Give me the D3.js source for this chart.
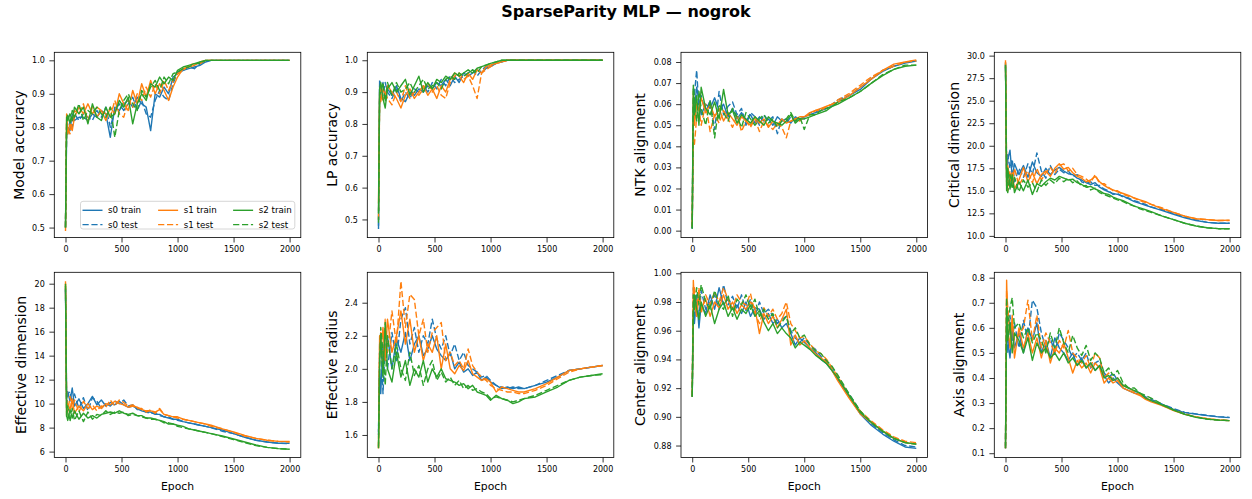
<!DOCTYPE html>
<html>
<head>
<meta charset="utf-8">
<script src="https://cdn.jsdelivr.net/npm/d3@7"></script>
<style>
  body { margin: 0; background: #fff; }
  svg { display: block; font-family: "DejaVu Sans", sans-serif; }
</style>
</head>
<body>
<div id="chart"></div>
<script>
const chartTitle = "SparseParity MLP \u2014 nogrok";

const epochs = [0,10,20,40,60,80,
  120,160,200,240,280,320,360,400,440,480,520,560,600,640,680,720,760,800,840,880,920,960,1000,
  1050,1100,1150,1200,1250,1300,
  1400,1500,1600,1700,1800,1900,2000];

// order: s0 train, s0 test, s1 train, s1 test, s2 train, s2 test
const seriesNames = ["s0 train", "s0 test", "s1 train", "s1 test", "s2 train", "s2 test"];

const modelAccuracy = [
  [0.50,0.78,0.80,0.79,0.84,0.82, 0.83,0.83,0.82,0.84,0.83,0.85,0.84,0.77,0.86,0.85,0.87,0.88,0.86,0.89,0.87,0.86,0.79,0.90,0.89,0.92,0.90,0.95,0.96, 0.97,0.975,0.98,0.985,0.995,1.0, 1,1,1,1,1,1,1],
  [0.50,0.80,0.78,0.82,0.80,0.84, 0.82,0.84,0.83,0.82,0.85,0.83,0.86,0.80,0.85,0.87,0.85,0.87,0.89,0.85,0.88,0.84,0.83,0.88,0.91,0.89,0.88,0.93,0.965, 0.97,0.98,0.975,0.99,0.998,1.0, 1,1,1,1,1,1,1],
  [0.49,0.84,0.78,0.81,0.79,0.83, 0.86,0.84,0.87,0.84,0.86,0.85,0.82,0.86,0.84,0.90,0.87,0.85,0.91,0.87,0.93,0.89,0.94,0.90,0.93,0.91,0.88,0.92,0.95, 0.975,0.98,0.985,0.995,1.0,1.0, 1,1,1,1,1,1,1],
  [0.50,0.82,0.80,0.78,0.82,0.85, 0.84,0.87,0.82,0.86,0.83,0.85,0.84,0.83,0.88,0.84,0.83,0.88,0.86,0.90,0.88,0.92,0.89,0.93,0.90,0.94,0.91,0.94,0.96, 0.97,0.985,0.99,0.99,1.0,1.0, 1,1,1,1,1,1,1],
  [0.50,0.83,0.82,0.84,0.82,0.86, 0.84,0.86,0.81,0.87,0.83,0.82,0.86,0.83,0.84,0.88,0.86,0.89,0.81,0.87,0.90,0.88,0.93,0.92,0.95,0.93,0.95,0.94,0.97, 0.98,0.985,0.99,0.995,1.0,1.0, 1,1,1,1,1,1,1],
  [0.50,0.82,0.84,0.81,0.85,0.83, 0.87,0.82,0.85,0.84,0.86,0.84,0.83,0.86,0.77,0.85,0.88,0.90,0.87,0.85,0.91,0.89,0.92,0.94,0.91,0.95,0.93,0.96,0.965, 0.975,0.98,0.99,0.99,1.0,1.0, 1,1,1,1,1,1,1]
];

const lpAccuracy = [
  [0.48,0.92,0.90,0.93,0.88,0.91, 0.89,0.92,0.88,0.87,0.90,0.89,0.91,0.90,0.92,0.91,0.93,0.92,0.94,0.92,0.95,0.93,0.96,0.95,0.96,0.97,0.96,0.975,0.98, 0.99,0.995,1.0,1.0,1.0,1.0, 1,1,1,1,1,1,1],
  [0.47,0.94,0.91,0.89,0.93,0.90, 0.88,0.91,0.87,0.90,0.88,0.91,0.90,0.92,0.90,0.93,0.91,0.94,0.92,0.95,0.93,0.94,0.95,0.96,0.97,0.95,0.97,0.98,0.985, 0.99,0.995,1.0,1.0,1.0,1.0, 1,1,1,1,1,1,1],
  [0.55,0.90,0.87,0.91,0.89,0.92, 0.90,0.88,0.85,0.89,0.91,0.88,0.90,0.92,0.89,0.91,0.88,0.92,0.90,0.94,0.96,0.95,0.93,0.96,0.94,0.97,0.96,0.98,0.985, 0.99,0.995,1.0,1.0,1.0,1.0, 1,1,1,1,1,1,1],
  [0.50,0.88,0.92,0.87,0.90,0.88, 0.86,0.90,0.87,0.92,0.88,0.90,0.89,0.91,0.93,0.90,0.92,0.89,0.88,0.93,0.95,0.96,0.94,0.95,0.92,0.88,0.96,0.97,0.98, 0.99,0.995,1.0,1.0,1.0,1.0, 1,1,1,1,1,1,1],
  [0.52,0.91,0.93,0.88,0.85,0.91, 0.93,0.90,0.92,0.94,0.89,0.92,0.95,0.90,0.93,0.91,0.94,0.93,0.95,0.94,0.96,0.95,0.96,0.97,0.96,0.975,0.98,0.985,0.99, 0.995,1.0,1.0,1.0,1.0,1.0, 1,1,1,1,1,1,1],
  [0.49,0.89,0.90,0.93,0.87,0.93, 0.89,0.93,0.90,0.91,0.93,0.90,0.92,0.94,0.91,0.92,0.93,0.91,0.94,0.95,0.94,0.96,0.95,0.96,0.97,0.96,0.98,0.985,0.99, 0.995,1.0,1.0,1.0,1.0,1.0, 1,1,1,1,1,1,1]
];

const ntkAlignment = [
  [0.001,0.062,0.058,0.068,0.062,0.055, 0.060,0.058,0.063,0.057,0.060,0.054,0.058,0.053,0.056,0.052,0.055,0.051,0.054,0.052,0.053,0.050,0.054,0.052,0.053,0.051,0.054,0.053,0.054, 0.055,0.056,0.057,0.058,0.059,0.061, 0.064,0.067,0.072,0.0755,0.078,0.0795,0.0805],
  [0.001,0.058,0.065,0.076,0.058,0.064, 0.056,0.062,0.048,0.066,0.055,0.059,0.061,0.055,0.058,0.050,0.056,0.054,0.050,0.055,0.052,0.054,0.046,0.053,0.051,0.054,0.052,0.053,0.053, 0.056,0.056,0.058,0.058,0.060,0.062, 0.064,0.068,0.072,0.076,0.078,0.080,0.0805],
  [0.002,0.066,0.050,0.060,0.057,0.063, 0.056,0.060,0.054,0.058,0.052,0.056,0.053,0.050,0.054,0.052,0.050,0.054,0.051,0.053,0.049,0.052,0.050,0.053,0.051,0.052,0.053,0.054,0.054, 0.056,0.057,0.058,0.059,0.060,0.061, 0.064,0.068,0.072,0.076,0.079,0.080,0.081],
  [0.002,0.045,0.041,0.054,0.058,0.050, 0.060,0.047,0.055,0.051,0.057,0.053,0.049,0.055,0.047,0.052,0.049,0.053,0.047,0.052,0.050,0.048,0.051,0.049,0.044,0.052,0.053,0.052,0.054, 0.055,0.057,0.057,0.059,0.060,0.062, 0.065,0.069,0.073,0.076,0.078,0.080,0.0805],
  [0.001,0.069,0.055,0.064,0.050,0.068, 0.058,0.055,0.061,0.053,0.067,0.055,0.057,0.051,0.055,0.053,0.051,0.054,0.052,0.050,0.054,0.052,0.051,0.050,0.052,0.055,0.051,0.053,0.053, 0.054,0.055,0.056,0.057,0.059,0.060, 0.063,0.066,0.070,0.0735,0.0765,0.078,0.0785],
  [0.001,0.068,0.063,0.052,0.066,0.058, 0.050,0.062,0.044,0.060,0.056,0.052,0.058,0.054,0.049,0.056,0.053,0.050,0.053,0.055,0.051,0.053,0.049,0.052,0.053,0.056,0.052,0.054,0.048, 0.055,0.055,0.057,0.058,0.059,0.061, 0.063,0.066,0.070,0.074,0.0765,0.0785,0.0785]
];

const criticalDimension = [
  [29.2,17.0,18.5,19.5,16.5,18.0, 16.8,17.8,16.5,18.2,17.0,16.6,17.5,16.8,17.3,17.6,17.2,16.9,16.8,16.4,16.2,15.9,15.7,15.9,15.4,15.1,14.9,14.7,14.6, 14.4,14.1,13.8,13.6,13.4,13.2, 12.8,12.4,12.0,11.7,11.5,11.4,11.4],
  [29.0,16.0,19.0,17.5,18.5,16.0, 17.5,16.5,18.0,16.8,19.2,17.2,16.4,17.8,16.8,17.4,17.0,17.2,16.6,16.8,16.0,15.8,16.0,15.6,15.6,15.2,15.0,14.6,14.7, 14.3,14.2,13.9,13.7,13.5,13.2, 12.9,12.5,12.1,11.8,11.5,11.4,11.4],
  [29.5,15.5,17.8,16.0,17.0,15.2, 16.2,17.6,16.0,17.0,15.8,16.8,17.2,16.6,17.5,18.0,17.4,17.6,17.0,16.6,16.4,16.0,16.2,16.6,16.0,15.6,15.3,15.1,14.9, 14.7,14.5,14.2,14.0,13.8,13.5, 13.0,12.6,12.2,11.9,11.8,11.7,11.75],
  [29.3,18.0,15.0,17.2,15.8,17.5, 15.6,16.5,17.2,15.9,17.5,16.2,17.0,17.6,16.9,17.8,18.0,17.2,17.5,16.8,16.6,16.3,15.9,16.8,15.8,15.8,15.4,15.0,15.0, 14.6,14.4,14.2,13.9,13.7,13.5, 13.1,12.6,12.2,11.9,11.8,11.7,11.7],
  [29.0,15.0,17.5,15.2,16.8,14.8, 16.0,15.0,16.2,14.6,15.8,15.5,16.0,16.4,16.2,16.6,16.4,16.2,16.3,15.9,15.7,15.4,15.5,15.2,15.0,14.7,14.6,14.3,14.1, 13.9,13.6,13.3,13.1,12.9,12.7, 12.2,11.8,11.4,11.1,10.9,10.8,10.8],
  [28.8,16.5,14.8,16.8,15.2,16.5, 14.9,16.2,15.4,15.9,14.9,16.2,15.6,16.2,15.8,16.4,16.0,16.4,15.9,16.1,15.5,15.6,15.1,15.3,14.8,14.6,14.4,14.2,14.0, 13.8,13.5,13.3,13.0,12.8,12.6, 12.2,11.8,11.4,11.1,10.9,10.8,10.8]
];

const effectiveDimension = [
  [19.5,10.5,11.0,10.2,11.3,9.8, 10.4,9.6,10.0,10.6,9.9,10.3,9.8,10.1,9.9,10.2,9.9,9.7,9.8,9.6,9.4,9.3,9.3,9.1,9.1,8.9,8.8,8.7,8.7, 8.5,8.4,8.3,8.2,8.1,8.0, 7.8,7.5,7.2,6.95,6.8,6.7,6.7],
  [19.6,9.5,10.8,11.0,10.0,10.8, 9.6,10.5,9.4,10.5,10.2,9.6,10.0,9.8,10.2,10.0,10.3,9.8,9.9,9.5,9.5,9.3,9.2,9.2,9.0,8.9,8.9,8.7,8.6, 8.5,8.4,8.3,8.2,8.1,8.0, 7.7,7.5,7.2,6.95,6.8,6.7,6.65],
  [20.2,9.0,10.0,9.5,10.4,9.2, 9.8,9.4,10.0,9.5,9.8,9.6,10.0,9.9,10.2,10.0,9.9,9.7,9.8,9.7,9.5,9.4,9.4,9.3,9.5,9.1,9.0,8.9,8.9, 8.7,8.6,8.5,8.4,8.3,8.2, 7.9,7.65,7.35,7.1,6.95,6.85,6.85],
  [20.0,10.3,9.3,10.6,9.6,10.3, 9.3,10.2,9.6,9.9,9.4,9.8,9.7,10.3,9.8,10.3,10.1,9.8,9.9,9.6,9.6,9.3,9.5,9.2,9.6,9.1,9.0,8.9,8.8, 8.7,8.6,8.5,8.4,8.3,8.1, 7.9,7.6,7.3,7.1,6.95,6.85,6.8],
  [20.0,9.0,8.6,9.5,8.8,9.4, 8.7,9.2,8.8,9.0,8.8,9.1,9.2,9.3,9.2,9.4,9.2,9.1,9.2,9.0,9.0,8.8,8.8,8.7,8.6,8.5,8.3,8.3,8.2, 8.1,7.9,7.8,7.7,7.6,7.5, 7.3,7.05,6.8,6.55,6.35,6.25,6.2],
  [19.8,8.8,9.8,8.5,9.6,8.6, 9.4,8.5,9.3,8.7,9.1,9.0,9.4,9.1,9.3,9.2,9.3,9.0,9.1,9.0,8.9,8.8,8.7,8.7,8.6,8.4,8.4,8.3,8.1, 8.0,7.9,7.8,7.7,7.6,7.5, 7.25,7.0,6.75,6.5,6.35,6.25,6.2]
];

const effectiveRadius = [
  [1.62,2.0,1.85,2.15,2.05,2.2, 2.0,2.18,2.1,2.22,2.05,2.15,2.2,2.08,2.12,2.2,2.12,2.08,2.05,2.1,2.0,2.04,1.98,2.0,1.96,1.98,1.93,1.95,1.92, 1.9,1.88,1.89,1.88,1.89,1.88, 1.9,1.92,1.95,1.99,2.0,2.01,2.02],
  [1.6,2.1,2.2,1.85,2.15,2.0, 2.22,2.05,2.3,2.37,2.15,2.25,2.1,2.2,2.15,2.3,2.18,2.12,2.2,2.08,2.15,2.05,2.1,2.02,2.0,1.98,1.95,1.96,1.93, 1.9,1.89,1.88,1.89,1.88,1.88, 1.9,1.93,1.96,1.99,2.0,2.01,2.02],
  [1.52,2.2,2.1,2.25,2.05,2.3, 2.1,2.2,2.35,2.15,2.3,2.1,2.2,2.05,2.15,2.1,2.2,2.0,2.15,2.0,1.97,2.02,1.99,2.05,1.97,1.95,1.93,1.94,1.92, 1.86,1.89,1.88,1.87,1.86,1.86, 1.88,1.91,1.95,1.99,2.0,2.01,2.02],
  [1.52,2.15,2.22,2.0,2.3,2.1, 2.35,2.15,2.53,2.25,2.45,2.42,2.2,2.3,2.1,2.22,2.25,2.28,2.05,2.1,2.02,2.05,2.0,2.12,2.02,1.98,1.95,1.93,1.9, 1.88,1.87,1.86,1.86,1.85,1.85, 1.87,1.9,1.94,1.98,2.0,2.01,2.02],
  [1.52,2.05,2.2,1.95,2.28,2.0, 1.92,2.1,1.95,2.05,1.9,2.0,1.95,2.05,1.92,2.0,1.95,2.0,1.94,1.93,1.92,1.9,1.91,1.88,1.9,1.86,1.85,1.84,1.81, 1.84,1.82,1.81,1.79,1.8,1.82, 1.83,1.86,1.89,1.93,1.95,1.96,1.97],
  [1.53,2.0,2.25,2.1,1.9,2.2, 2.0,2.15,2.0,1.93,2.1,1.96,2.02,1.9,2.0,2.05,1.93,1.98,1.92,1.95,1.9,1.93,1.88,1.9,1.87,1.88,1.86,1.85,1.82, 1.83,1.82,1.81,1.8,1.81,1.82, 1.84,1.87,1.9,1.93,1.95,1.96,1.965]
];

const centerAlignment = [
  [0.914,0.975,0.965,0.985,0.962,0.978, 0.972,0.985,0.975,0.99,0.978,0.982,0.975,0.978,0.972,0.98,0.97,0.976,0.975,0.968,0.972,0.965,0.968,0.962,0.965,0.958,0.95,0.955,0.952, 0.948,0.945,0.94,0.937,0.932,0.926, 0.914,0.902,0.894,0.888,0.883,0.879,0.878],
  [0.914,0.99,0.97,0.98,0.968,0.988, 0.975,0.98,0.985,0.975,0.992,0.978,0.984,0.975,0.985,0.974,0.982,0.97,0.98,0.972,0.975,0.97,0.965,0.968,0.97,0.96,0.955,0.952,0.955, 0.95,0.947,0.942,0.938,0.934,0.928, 0.916,0.904,0.895,0.889,0.884,0.88,0.879],
  [0.914,0.995,0.98,0.97,0.985,0.975, 0.982,0.97,0.98,0.976,0.985,0.975,0.98,0.972,0.978,0.975,0.98,0.976,0.958,0.972,0.965,0.97,0.962,0.968,0.975,0.95,0.957,0.95,0.953, 0.948,0.944,0.941,0.938,0.932,0.925, 0.913,0.902,0.896,0.89,0.885,0.882,0.881],
  [0.915,0.98,0.99,0.975,0.99,0.972, 0.985,0.978,0.987,0.98,0.99,0.982,0.975,0.985,0.98,0.978,0.986,0.972,0.965,0.976,0.97,0.975,0.968,0.972,0.98,0.965,0.96,0.955,0.956, 0.951,0.946,0.944,0.94,0.934,0.928, 0.915,0.904,0.897,0.891,0.886,0.883,0.882],
  [0.914,0.97,0.985,0.975,0.968,0.98, 0.97,0.978,0.965,0.975,0.98,0.97,0.976,0.968,0.975,0.972,0.978,0.97,0.974,0.966,0.96,0.965,0.958,0.962,0.958,0.955,0.948,0.952,0.95, 0.947,0.943,0.94,0.937,0.932,0.927, 0.915,0.903,0.896,0.89,0.885,0.882,0.881],
  [0.914,0.985,0.975,0.99,0.978,0.992, 0.98,0.975,0.988,0.978,0.975,0.985,0.97,0.982,0.978,0.985,0.975,0.982,0.97,0.975,0.968,0.972,0.962,0.966,0.97,0.958,0.962,0.955,0.957, 0.95,0.946,0.944,0.939,0.935,0.929, 0.916,0.904,0.896,0.89,0.885,0.882,0.881]
];

const axisAlignment = [
  [0.12,0.62,0.55,0.48,0.6,0.52, 0.58,0.5,0.6,0.55,0.62,0.5,0.55,0.48,0.56,0.52,0.5,0.47,0.5,0.45,0.48,0.44,0.46,0.43,0.45,0.41,0.38,0.4,0.38, 0.36,0.35,0.34,0.335,0.32,0.31, 0.295,0.275,0.262,0.256,0.25,0.245,0.242],
  [0.12,0.7,0.5,0.65,0.55,0.62, 0.52,0.63,0.55,0.71,0.68,0.58,0.52,0.56,0.5,0.58,0.55,0.52,0.48,0.5,0.47,0.5,0.44,0.46,0.47,0.42,0.4,0.42,0.39, 0.37,0.36,0.35,0.34,0.325,0.315, 0.295,0.278,0.263,0.257,0.251,0.246,0.243],
  [0.12,0.79,0.6,0.52,0.65,0.48, 0.6,0.52,0.58,0.5,0.56,0.48,0.55,0.46,0.52,0.5,0.54,0.48,0.42,0.47,0.44,0.46,0.42,0.46,0.44,0.38,0.4,0.38,0.39, 0.36,0.35,0.34,0.33,0.315,0.305, 0.29,0.27,0.255,0.245,0.238,0.233,0.23],
  [0.12,0.75,0.68,0.58,0.62,0.55, 0.57,0.6,0.71,0.55,0.65,0.52,0.58,0.54,0.5,0.55,0.52,0.59,0.5,0.48,0.46,0.49,0.44,0.5,0.48,0.4,0.42,0.39,0.4, 0.37,0.36,0.345,0.335,0.32,0.31, 0.29,0.272,0.257,0.245,0.238,0.233,0.23],
  [0.13,0.68,0.55,0.62,0.5,0.58, 0.55,0.5,0.56,0.47,0.54,0.5,0.52,0.48,0.5,0.47,0.5,0.46,0.48,0.45,0.47,0.44,0.46,0.43,0.45,0.4,0.41,0.39,0.4, 0.37,0.36,0.35,0.34,0.32,0.31, 0.292,0.272,0.255,0.243,0.236,0.232,0.23],
  [0.12,0.72,0.6,0.68,0.72,0.6, 0.62,0.56,0.6,0.54,0.58,0.55,0.5,0.58,0.52,0.6,0.54,0.5,0.57,0.52,0.49,0.53,0.47,0.5,0.48,0.42,0.44,0.41,0.43, 0.38,0.36,0.36,0.34,0.33,0.32, 0.295,0.273,0.256,0.244,0.236,0.232,0.23]
];

const panelData = [modelAccuracy, lpAccuracy, ntkAlignment, criticalDimension,
                   effectiveDimension, effectiveRadius, centerAlignment, axisAlignment];
const yLabels = ["Model accuracy", "LP accuracy", "NTK alignment", "Critical dimension",
                 "Effective dimension", "Effective radius", "Center alignment", "Axis alignment"];
const yTicks = [
  [0.5,0.6,0.7,0.8,0.9,1.0],
  [0.5,0.6,0.7,0.8,0.9,1.0],
  [0,0.01,0.02,0.03,0.04,0.05,0.06,0.07,0.08],
  [10,12.5,15,17.5,20,22.5,25,27.5,30],
  [6,8,10,12,14,16,18,20],
  [1.6,1.8,2.0,2.2,2.4],
  [0.88,0.90,0.92,0.94,0.96,0.98,1.00],
  [0.1,0.2,0.3,0.4,0.5,0.6,0.7,0.8]
];
const yFormats = [".1f", ".1f", ".2f", ".1f", "d", ".1f", ".2f", ".1f"];
const xTicks = [0, 500, 1000, 1500, 2000];

// layout
const W = 1252, H = 499;
const colLeft = [54.3, 367.3, 681, 994.3];
const rowTop = [52.3, 272.3];
const axW = 246.5, axH = 185.3;
const yDomains = [[0.470, 1.024], [0.443, 1.025], [-0.0033, 0.0846], [9.81, 30.37],
                  [5.5, 20.95], [1.463, 2.584], [0.8716, 1.0007], [0.0825, 0.8215]];
const seedColors = ["#1f77b4", "#ff7f0e", "#2ca02c"];
const lineW = 1.4, dash = "6.2,2.7";

const svg = d3.select("#chart").append("svg")
  .attr("width", W)
  .attr("height", H);

svg.append("text")
  .attr("x", 626)
  .attr("y", 16.5)
  .attr("text-anchor", "middle")
  .style("font-size", "16px")
  .style("font-weight", "bold")
  .text(chartTitle);

panelData.forEach((series, i) => {
  const row = Math.floor(i / 4), col = i % 4;
  const g = svg.append("g")
    .attr("transform", "translate(" + colLeft[col] + "," + rowTop[row] + ")");

  const x = d3.scaleLinear().domain([-100, 2100]).range([0, axW]);
  const y = d3.scaleLinear().domain(yDomains[i]).range([axH, 0]);

  const line = d3.line()
    .x((d, k) => x(epochs[k]))
    .y(d => y(d));

  series.forEach((vals, s) => {
    g.append("path")
      .attr("d", line(vals))
      .attr("fill", "none")
      .attr("stroke", seedColors[Math.floor(s / 2)])
      .attr("stroke-width", lineW)
      .attr("stroke-linejoin", "round")
      .attr("stroke-dasharray", s % 2 ? dash : null);
  });

  // axes
  const yAxis = g.append("g")
    .call(d3.axisLeft(y).tickValues(yTicks[i]).tickFormat(d3.format(yFormats[i]))
      .tickSize(4.9).tickPadding(4.6));
  const xAxis = g.append("g")
    .attr("transform", "translate(0," + axH + ")")
    .call(d3.axisBottom(x).tickValues(xTicks).tickFormat(d3.format("d"))
      .tickSize(4.9).tickPadding(4.2));
  [yAxis, xAxis].forEach(a => {
    a.select(".domain").remove();
    a.selectAll("line").attr("stroke", "#000").attr("stroke-width", 0.8);
    a.selectAll("text").style("font-size", "8px").attr("fill", "#000")
      .style("font-family", "'DejaVu Sans', sans-serif");
  });

  g.append("rect")
    .attr("width", axW)
    .attr("height", axH)
    .attr("fill", "none")
    .attr("stroke", "#000")
    .attr("stroke-width", 0.8);

  // y label, placed left of the tick labels
  const bb = yAxis.node().getBBox();
  g.append("text")
    .attr("transform", "translate(" + (bb.x - 8.3) + "," + (axH / 2) + ") rotate(-90)")
    .attr("text-anchor", "middle")
    .style("font-size", "14px")
    .text(yLabels[i]);

  if (row === 1) {
    g.append("text")
      .attr("x", axW / 2)
      .attr("y", axH + 32.4)
      .attr("text-anchor", "middle")
      .style("font-size", "10.8px")
      .text("Epoch");
  }

  if (i === 0) {
    const lw = 214.3, lh = 27.7;
    const leg = g.append("g")
      .attr("transform", "translate(" + (axW - 6 - lw) + "," + (axH - 8.6 - lh) + ")");
    leg.append("rect")
      .attr("width", lw).attr("height", lh)
      .attr("rx", 2.5)
      .attr("fill", "#fff").attr("fill-opacity", 0.8)
      .attr("stroke", "#ccc").attr("stroke-width", 0.8);
    const colX = [2, 77.6, 152.6], rowY = [9, 23.3];
    seriesNames.forEach((name, s) => {
      const c = Math.floor(s / 2), r = s % 2;
      leg.append("line")
        .attr("x1", colX[c]).attr("x2", colX[c] + 20)
        .attr("y1", rowY[r]).attr("y2", rowY[r])
        .attr("stroke", seedColors[c])
        .attr("stroke-width", lineW)
        .attr("stroke-dasharray", r ? dash : null);
      leg.append("text")
        .attr("x", colX[c] + 25.6)
        .attr("y", rowY[r] + 3)
        .style("font-size", "8.7px")
        .text(name);
    });
  }
});
</script>
</body>
</html>
